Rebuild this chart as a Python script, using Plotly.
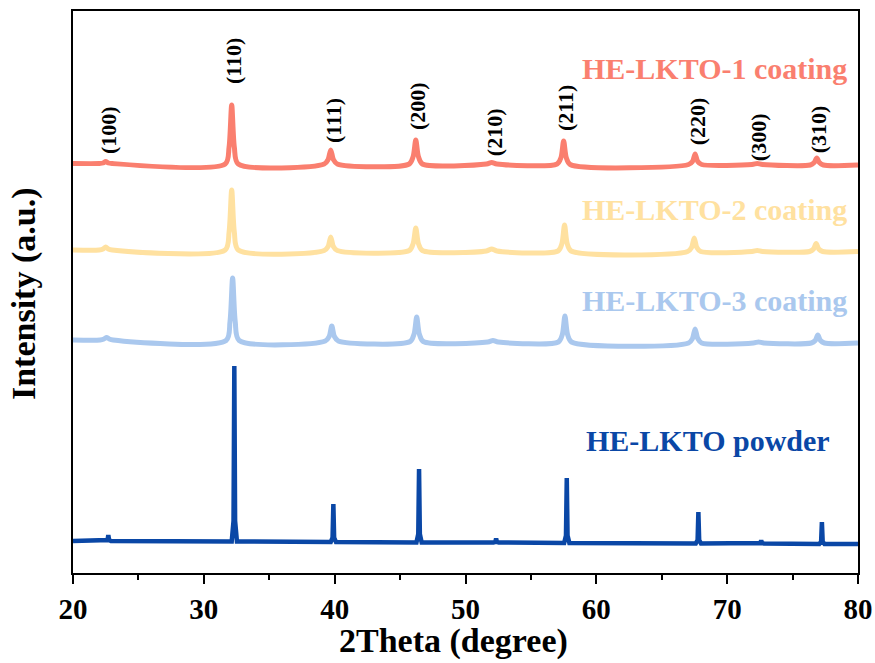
import plotly.graph_objects as go

# ---------------- data ----------------
red_x = [20.0, 22.0, 22.3, 22.5, 22.7, 23.0,
         31.63, 31.93, 32.13, 32.33, 32.63,
         39.2, 39.5, 39.7, 39.9, 40.2,
         45.7, 46.0, 46.2, 46.4, 46.7,
         51.6, 52.0, 52.4,
         57.0, 57.3, 57.5, 57.7, 58.0,
         67.05, 67.35, 67.55, 67.75, 68.05,
         71.9, 72.3, 72.7,
         76.35, 76.65, 76.85, 77.05, 77.35,
         80.0]
red_y = [409.5, 409.5, 410, 411.5, 410, 409.5,
         409, 426, 468, 426, 409,
         409, 413.5, 423, 413.5, 409,
         409, 416.5, 433, 416.5, 409,
         409, 410.5, 409,
         409, 415.5, 432, 415.5, 408.5,
         408.5, 411.5, 419, 411.5, 408.5,
         408.5, 409.5, 408.5,
         408, 410.5, 415, 410.5, 408,
         408]

yellow_x = [20.0, 22.0, 22.3, 22.5, 22.7, 23.0,
            31.63, 31.93, 32.13, 32.33, 32.63,
            39.2, 39.5, 39.7, 39.9, 40.2,
            45.7, 46.0, 46.2, 46.4, 46.7,
            51.6, 52.0, 52.4,
            57.07, 57.37, 57.57, 57.77, 58.07,
            66.98, 67.28, 67.48, 67.68, 67.98,
            71.9, 72.3, 72.7,
            76.3, 76.6, 76.8, 77.0, 77.3,
            80.0]
yellow_y = [323, 323, 324, 326, 324, 323,
            323, 341, 383, 341, 323,
            322.5, 326.5, 336, 326.5, 322.5,
            322.5, 329.5, 345, 329.5, 322.5,
            322, 324, 322,
            322, 329.5, 348, 329.5, 322,
            321.5, 325.5, 335, 325.5, 321.5,
            321.5, 322.5, 321.5,
            321.5, 324, 329.5, 324, 321.5,
            321.5]

lblue_x = [20.0, 22.07, 22.37, 22.57, 22.77, 23.07,
           31.7, 32.0, 32.2, 32.4, 32.7,
           39.28, 39.58, 39.78, 39.98, 40.28,
           45.77, 46.07, 46.27, 46.47, 46.77,
           51.7, 52.1, 52.5,
           57.1, 57.4, 57.6, 57.8, 58.1,
           67.05, 67.35, 67.55, 67.75, 68.05,
           72.0, 72.4, 72.8,
           76.43, 76.73, 76.93, 77.13, 77.43,
           80.0]
lblue_y = [233, 233, 234, 235.5, 234, 233,
           232.5, 251.5, 295, 251.5, 232.5,
           232, 236.5, 247, 236.5, 232,
           231.5, 239, 256, 239, 231.5,
           231, 232.5, 231,
           231, 238.5, 257, 238.5, 231,
           230, 234.5, 244, 234.5, 230,
           230, 231, 230,
           230, 232.5, 238, 232.5, 230,
           230]

powder_x = [20.0, 22.5, 22.64, 22.7, 22.76, 22.9,
            32.13, 32.27, 32.33, 32.39, 32.53,
            39.7, 39.84, 39.9, 39.96, 40.1,
            46.25, 46.39, 46.45, 46.51, 46.65,
            52.14, 52.28, 52.34, 52.4, 52.54,
            57.54, 57.68, 57.74, 57.8, 57.94,
            67.6, 67.74, 67.8, 67.86, 68.0,
            72.4, 72.54, 72.6, 72.66, 72.8,
            77.04, 77.18, 77.24, 77.3, 77.44,
            80.0]
powder_y = [32, 32, 33, 38, 33, 32,
            31.5, 52, 207, 52, 31.5,
            31, 35.5, 69, 35.5, 31,
            30.5, 39, 104, 39, 30.5,
            30.5, 31, 34.5, 31, 30.5,
            30, 37.5, 95, 37.5, 30,
            29.5, 33, 61, 33, 29.5,
            29.5, 30, 32.5, 30, 29.5,
            29, 31.5, 51, 31.5, 29,
            29]

series_names = ["HE-LKTO-1 coating", "HE-LKTO-2 coating", "HE-LKTO-3 coating", "HE-LKTO powder"]
series_colors = ["#FA7F6F", "#FFE1A0", "#AAC8EE", "#0A47A6"]

hkl_labels = ["(100)", "(110)", "(111)", "(200)", "(210)", "(211)", "(220)", "(300)", "(310)"]
hkl_x = [22.68, 32.23, 39.88, 46.30, 52.19, 57.61, 67.71, 72.37, 76.96]
hkl_y = [443, 512, 452, 467, 441, 465, 452, 436, 444]

x_ticks = [20, 30, 40, 50, 60, 70, 80]

# ---------------- figure ----------------
FONT = "Liberation Serif"
fig = go.Figure()

curves = [(red_x, red_y), (yellow_x, yellow_y), (lblue_x, lblue_y), (powder_x, powder_y)]
for i, (xs, ys) in enumerate(curves):
    is_powder = (i == 3)
    fig.add_trace(go.Scatter(
        x=xs, y=ys, mode="lines", name=series_names[i],
        line=dict(color=series_colors[i], width=4.5 if is_powder else 5,
                  shape="linear" if is_powder else "spline",
                  smoothing=0 if is_powder else 0.8),
        showlegend=False, hoverinfo="skip"))

# series labels
label_pos = [(79.33, 505, "right"), (79.33, 364, "right"), (79.33, 273, "right"), (68.51, 133, "center")]
for i, (lx, ly, anc) in enumerate(label_pos):
    fig.add_annotation(x=lx, y=ly, xref="x", yref="y", text=series_names[i],
                       showarrow=False, xanchor=anc, yanchor="middle",
                       font=dict(family=FONT, size=30, color=series_colors[i], weight="bold"))

# hkl labels
for t, hx, hy in zip(hkl_labels, hkl_x, hkl_y):
    fig.add_annotation(x=hx, y=hy, xref="x", yref="y", text=t, showarrow=False,
                       textangle=-90, xanchor="center", yanchor="middle",
                       font=dict(family=FONT, size=22, color="black", weight="bold"))

# axis titles as annotations
fig.add_annotation(x=49.05, y=-0.121, xref="x", yref="paper", text="2Theta (degree)",
                   showarrow=False, xanchor="center", yanchor="middle",
                   font=dict(family=FONT, size=34, color="black", weight="bold"))
fig.add_annotation(x=-0.063, y=279.5, xref="paper", yref="y", text="Intensity (a.u.)",
                   showarrow=False, textangle=-90, xanchor="center", yanchor="middle",
                   font=dict(family=FONT, size=34, color="black", weight="bold"))

fig.update_layout(
    width=875, height=663,
    margin=dict(l=73, r=17, t=11, b=90, autoexpand=False),
    paper_bgcolor="white", plot_bgcolor="white",
    xaxis=dict(range=[20, 80], tickvals=x_ticks, ticktext=[str(v) for v in x_ticks],
               automargin=False,
               ticks="outside", ticklen=9, tickwidth=2, tickcolor="black",
               showline=True, linecolor="black", linewidth=2, mirror=True,
               showgrid=False, zeroline=False,
               tickfont=dict(family=FONT, size=29, color="black", weight="bold"),
               minor=dict(tickvals=[25, 35, 45, 55, 65, 75], ticks="outside", ticklen=5,
                          tickwidth=2, tickcolor="black", showgrid=False)),
    yaxis=dict(range=[0, 562], showticklabels=False, ticks="", automargin=False,
               showline=True, linecolor="black", linewidth=2, mirror=True,
               showgrid=False, zeroline=False),
)

fig.write_html("out.html")
